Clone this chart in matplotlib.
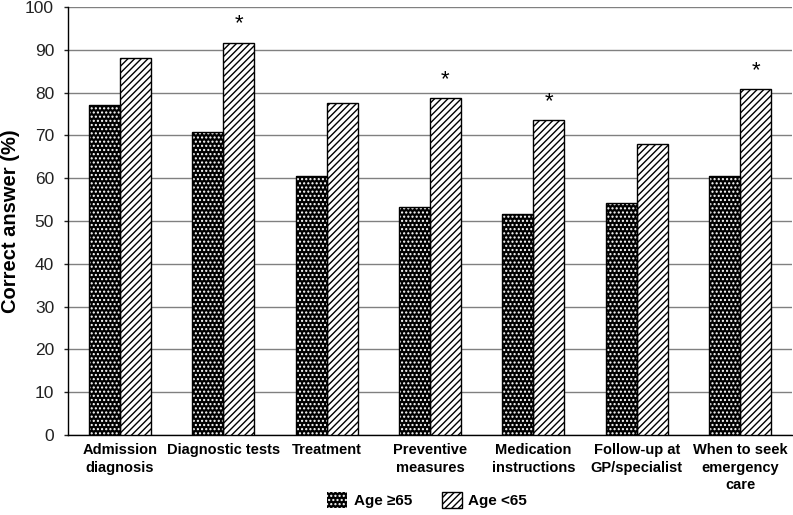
import matplotlib.pyplot as plt
import numpy as np

categories = ["Admission\ndiagnosis", "Diagnostic tests", "Treatment", "Preventive\nmeasures",
              "Medication\ninstructions", "Follow-up at\nGP/specialist", "When to seek\nemergency\ncare"]
age_65_plus = [77.2, 70.8, 60.4, 53.3, 51.6, 54.2, 60.6]
age_under_65 = [88.0, 91.7, 77.6, 78.8, 73.6, 68.0, 80.8]
significant = [False, True, False, True, True, False, True]

plt.rcParams['font.family'] = ['Liberation Sans', 'DejaVu Sans']
plt.rcParams['hatch.linewidth'] = 1.0

fig = plt.figure(figsize=(7.93, 5.15), dpi=100)
ax = fig.add_axes([68 / 793, 80 / 515, 724 / 793, 428 / 515])

x = np.arange(len(categories))
w = 0.30
# dark bars: black with a grid of white dots
b1 = ax.bar(x - w / 2, age_65_plus, w, color='black', edgecolor='white', hatch='....',
            linewidth=0, zorder=3, label='Age \u226565')
ax.bar(x - w / 2, age_65_plus, w, fill=False, edgecolor='black', linewidth=1, zorder=4)
b2 = ax.bar(x + w / 2, age_under_65, w, color='white', edgecolor='black', hatch='/////',
            linewidth=1, zorder=3, label='Age <65')

for i, s in enumerate(significant):
    if s:
        ax.text(x[i] + w / 2, age_under_65[i] + 4.3, '*', ha='center', va='center', fontsize=16)

ax.set_xlim(-0.5, len(categories) - 0.5)
ax.set_ylim(0, 100)
ax.set_yticks(range(0, 101, 10))
ax.yaxis.grid(True, color='#808080', linewidth=1, zorder=0)
ax.set_axisbelow(True)
for sp in ['top', 'right']:
    ax.spines[sp].set_visible(False)
ax.spines['left'].set_linewidth(1)
ax.spines['bottom'].set_linewidth(1)
ax.tick_params(axis='y', labelsize=12.5, length=3, width=1, colors='#222222', pad=7)
ax.tick_params(axis='x', length=0, pad=6)
ax.set_xticks(x)
ax.set_xticklabels(categories, fontsize=10.5, fontweight='bold', va='top', linespacing=1.3)
ax.set_ylabel('Correct answer (%)', fontsize=14.5, fontweight='bold')
ax.yaxis.label.set_va('center')
ax.yaxis.set_label_coords(-57 / 724, 0.5)

leg = fig.legend(handles=[b1, b2], loc='center', bbox_to_anchor=(427 / 793, 1 - 500 / 515),
                 ncol=2, frameon=False, fontsize=11, handlelength=1.3, handleheight=1.3,
                 columnspacing=1.95, handletextpad=0.45)
for t in leg.get_texts():
    t.set_fontweight('bold')
leg.legend_handles[0].set_edgecolor('white')
leg.legend_handles[0].set_linewidth(0)
leg.legend_handles[1].set_linewidth(1)

fig.savefig('out.png', dpi=100)
